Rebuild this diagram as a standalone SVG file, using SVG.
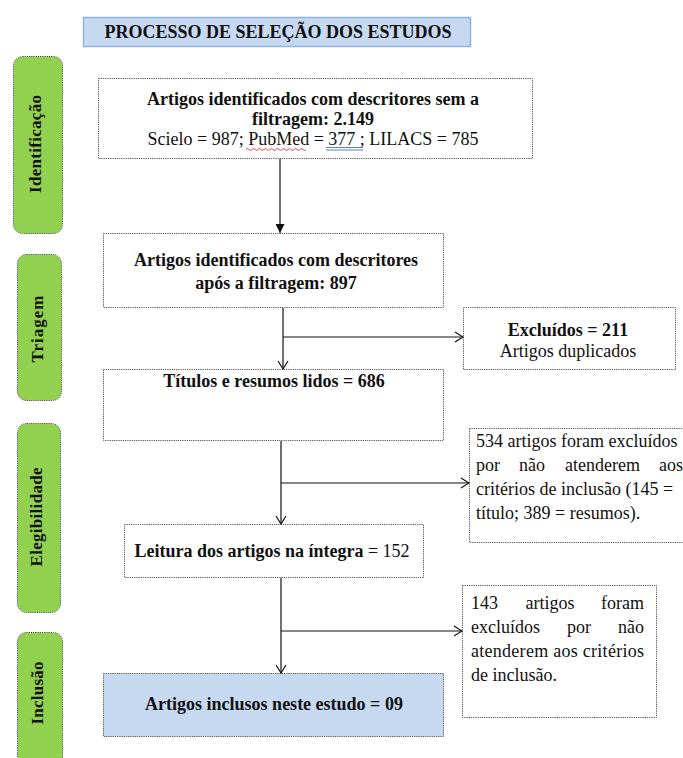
<svg xmlns="http://www.w3.org/2000/svg" width="683" height="758" viewBox="0 0 683 758">
<style>
text{font-family:'Liberation Serif','Times New Roman',serif;fill:#111;font-size:18px}
.b{font-weight:bold}
.box{fill:#fff;stroke:#555;stroke-width:1;stroke-dasharray:1.2 1}
.tab{fill:#92D050;stroke:#555;stroke-width:1;stroke-dasharray:1.2 1}
.tabt{font-weight:bold;font-size:17px;text-anchor:middle}
.c{text-anchor:middle}
.e{text-anchor:end}
.ln{stroke:#111;stroke-width:1.2;fill:none}
</style>
<defs>
<marker id="open" viewBox="0 0 10 12" refX="9" refY="6" markerWidth="10" markerHeight="12" markerUnits="userSpaceOnUse" orient="auto">
<path d="M1,1 L9,6 L1,11" fill="none" stroke="#111" stroke-width="1.2"/>
</marker>
<marker id="fill" viewBox="0 0 10 10" refX="10" refY="5" markerWidth="9" markerHeight="9" markerUnits="userSpaceOnUse" orient="auto">
<path d="M0,0 L10,5 L0,10 Z" fill="#111"/>
</marker>
</defs>
<rect width="683" height="758" fill="#fff"/>
<g id="title">
<rect x="83.5" y="17.5" width="387" height="29" fill="#C6D9F1" stroke="#8EB4E3" stroke-width="1.5"/>
<text class="b c" x="278" y="38">PROCESSO DE SELEÇÃO DOS ESTUDOS</text>
</g>
<g id="tab-identificacao">
<rect class="tab" x="13.5" y="56.5" width="49" height="177" rx="9"/>
<text class="tabt" transform="translate(41,144) rotate(-90)" textLength="98" lengthAdjust="spacing">Identificação</text>
</g>
<g id="tab-triagem">
<rect class="tab" x="17.5" y="254.5" width="44" height="146" rx="9"/>
<text class="tabt" transform="translate(43,329) rotate(-90)" textLength="67" lengthAdjust="spacing">Triagem</text>
</g>
<g id="tab-elegibilidade">
<rect class="tab" x="17.5" y="423.5" width="43" height="189" rx="9"/>
<text class="tabt" transform="translate(42,517) rotate(-90)" textLength="99" lengthAdjust="spacing">Elegibilidade</text>
</g>
<g id="tab-inclusao">
<rect class="tab" x="17.5" y="632.5" width="45" height="140" rx="9"/>
<text class="tabt" transform="translate(43,693) rotate(-90)" textLength="63" lengthAdjust="spacing">Inclusão</text>
</g>
<g id="box-identificados">
<rect class="box" x="98.5" y="78.5" width="434" height="80"/>
<text class="b c" x="313" y="105">Artigos identificados com descritores sem a</text>
<text class="b c" x="313" y="125">filtragem: 2.149</text>
<text class="c" x="313" y="145">Scielo = 987; PubMed = 377 ; LILACS = 785</text>
<path d="M246,149.5 q1.5,-2 3,0 t3,0 t3,0 t3,0 t3,0 t3,0 t3,0 t3,0 t3,0 t3,0 t3,0 t3,0 t3,0 t3,0 t3,0 t3,0 t3,0 t3,0 t3,0 t3,0" fill="none" stroke="#E0303A" stroke-width="0.9"/>
<path d="M326,147.5 h37 M326,150 h37" stroke="#4472C4" stroke-width="0.9"/>
</g>
<g id="box-filtragem">
<rect class="box" x="103.5" y="233.5" width="340" height="74"/>
<text class="b c" x="276" y="266">Artigos identificados com descritores</text>
<text class="b c" x="276" y="289">após a filtragem: 897</text>
</g>
<g id="box-excluidos">
<rect class="box" x="463.5" y="307.5" width="212" height="62"/>
<text class="b c" x="568" y="336">Excluídos = 211</text>
<text class="c" x="568" y="357">Artigos duplicados</text>
</g>
<g id="box-titulos">
<rect class="box" x="103.5" y="369.5" width="340" height="71"/>
<text class="b c" x="274" y="387">Títulos e resumos lidos = 686</text>
</g>
<g id="box-534">
<rect class="box" x="469.5" y="428.5" width="220" height="114"/>
<text x="476" y="447">534 artigos foram excluídos</text>
<text x="476" y="471">por</text>
<text x="519" y="471">não</text>
<text x="565" y="471">atenderem</text>
<text class="e" x="683" y="471">aos</text>
<text x="476" y="495">critérios de inclusão (145 =</text>
<text x="476" y="519">título; 389 = resumos).</text>
</g>
<g id="box-leitura">
<rect class="box" x="124.5" y="524.5" width="299" height="53"/>
<text class="c" x="272" y="557"><tspan class="b">Leitura dos artigos na íntegra</tspan> = 152</text>
</g>
<g id="box-143">
<rect class="box" x="462.5" y="585.5" width="194" height="132"/>
<text x="471" y="609">143</text>
<text class="c" x="550" y="609">artigos</text>
<text class="e" x="644" y="609">foram</text>
<text x="471" y="633">excluídos</text>
<text class="c" x="579" y="633">por</text>
<text class="e" x="644" y="633">não</text>
<text x="471" y="657" textLength="173" lengthAdjust="spacing">atenderem aos critérios</text>
<text x="471" y="681">de inclusão.</text>
</g>
<g id="box-inclusos">
<rect class="box" x="103.5" y="673.5" width="340" height="63" style="fill:#C6D9F1"/>
<text class="b c" x="274" y="710">Artigos inclusos neste estudo = 09</text>
</g>
<g id="connectors">
<path class="ln" d="M280,159 V233" marker-end="url(#fill)"/>
<path class="ln" d="M283,308 V369" marker-end="url(#open)"/>
<path class="ln" d="M283,337 H463" stroke-width="1.6" marker-end="url(#open)"/>
<path class="ln" d="M281,441 V524" marker-end="url(#open)"/>
<path class="ln" d="M281,483 H469" marker-end="url(#open)"/>
<path class="ln" d="M281,578 V673" marker-end="url(#open)"/>
<path class="ln" d="M281,631 H462" marker-end="url(#open)"/>
</g>
</svg>
